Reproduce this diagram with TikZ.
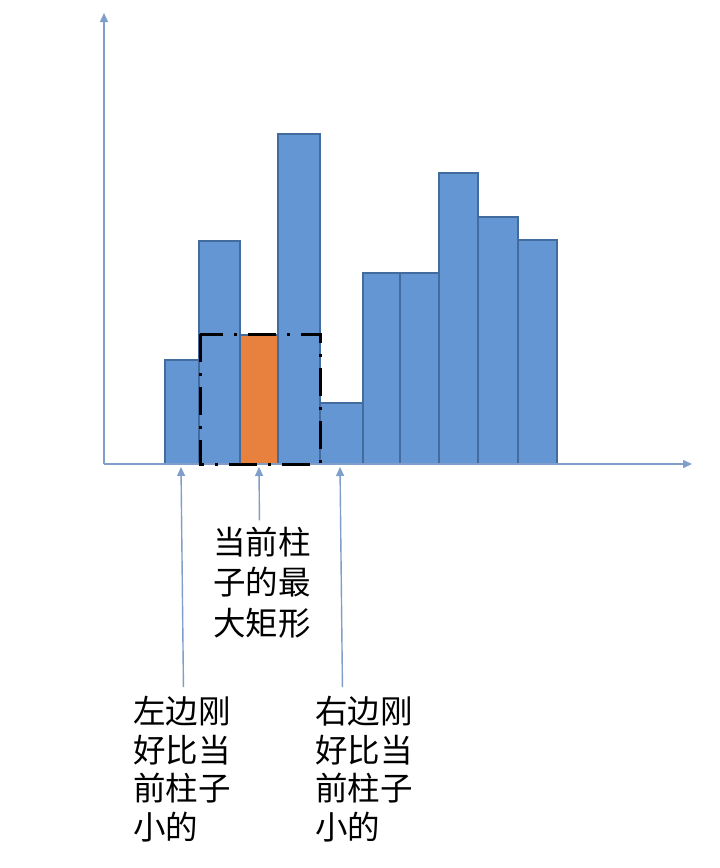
\documentclass[tikz,border=0pt]{standalone}
\usepackage{fontspec}
\setmainfont{Noto Sans CJK SC}
\usetikzlibrary{arrows.meta}

\definecolor{barblue}{RGB}{99,150,210}
\definecolor{baredge}{RGB}{66,108,158}
\definecolor{barorange}{RGB}{232,128,62}
\definecolor{axisblue}{RGB}{128,158,202}

\tikzset{
  bar/.style={fill=barblue, draw=baredge, line width=1.3pt},
  axisline/.style={draw=axisblue, line width=1.4pt, -{Triangle[width=8pt,length=9pt]}},
  pointer/.style={draw=axisblue, line width=1.4pt, -{Triangle[width=8pt,length=9pt]}},
  window/.style={draw=black, line width=3pt, dash pattern=on 28pt off 11pt on 3pt off 11pt},
  label/.style={inner sep=0pt, anchor=base west, align=left, font=\fontsize{32.5}{38.5}\selectfont}
}

\begin{document}
\begin{tikzpicture}[x=1pt, y=-1pt]
    \useasboundingbox (0,0) rectangle (720,868);

    % Bars: left edge / right edge / top
    \foreach \xa/\xb/\top in {165/199/360, 199/240/241, 278/320/134, 320/363/403,
                              363/400/273, 400/439/273, 439/478/173, 478/518/217, 518/557/240}
      \draw[bar] (\xa,464) rectangle (\xb,\top);

    % Current bar
    \draw[bar, fill=barorange] (240,464) rectangle (278,335);

    % Axes
    \coordinate (O) at (104,464);
    \draw[axisline] (O) -- (692,464);
    \draw[axisline] (O) -- (104,13);

    % Largest rectangle for the current bar
    \draw[window] (200,334) rectangle (320,464);

    % Labels (anchored at the baseline of their last line)
    \node[label, font=\fontsize{32.5}{40.5}\selectfont] (cur) at (213,635) {当前柱\\子的最\\大矩形};
    \node[label] (lft) at (133,839) {左边刚\\好比当\\前柱子\\小的};
    \node[label] (rgt) at (315,839) {右边刚\\好比当\\前柱子\\小的};

    % Arrows to the axis
    \coordinate (curtip) at (259,467);
    \coordinate (lfttip) at (181,467);
    \coordinate (rgttip) at (340,467);
    \draw[pointer] ([xshift=-2.5pt,yshift=6pt]cur.north) -- (curtip);
    \draw[pointer] ([xshift=1.5pt,yshift=9pt]lft.north) -- (lfttip);
    \draw[pointer] ([xshift=-21.5pt,yshift=9pt]rgt.north) -- (rgttip);
\end{tikzpicture}
\end{document}
